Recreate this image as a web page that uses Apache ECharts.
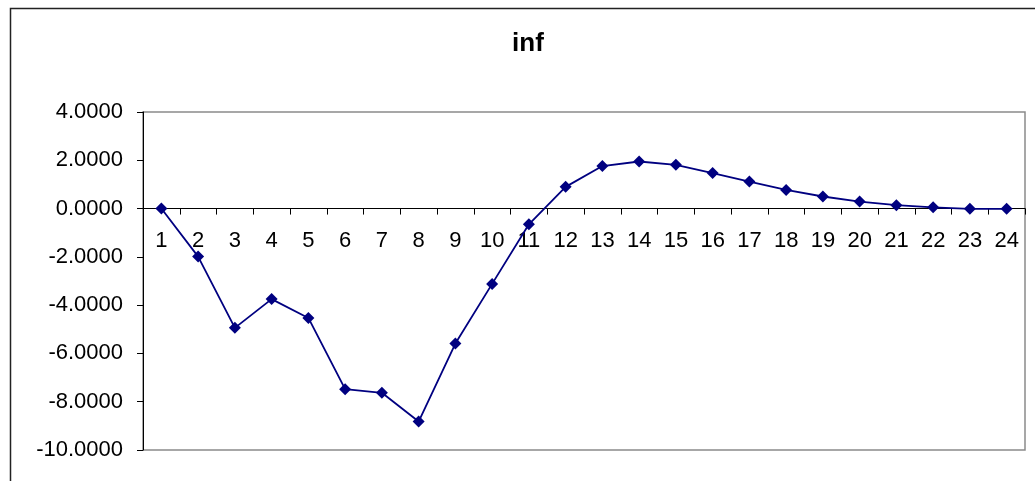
<!DOCTYPE html>
<html>
<head>
<meta charset="utf-8">
<script src="https://cdn.jsdelivr.net/npm/echarts@6/dist/echarts.min.js"></script>
<style>
  html, body { margin: 0; padding: 0; background: #fff; }
  #chart { width: 1035px; height: 481px; }
</style>
</head>
<body>
<div id="chart"></div>
<script>
// Periods 1..24 and the impulse response of inflation
const categories = ['1','2','3','4','5','6','7','8','9','10','11','12','13','14','15','16','17','18','19','20','21','22','23','24'];
const infValues = [0.00, -1.99, -4.94, -3.75, -4.53, -7.48, -7.63, -8.82, -5.59, -3.12, -0.65, 0.90, 1.76, 1.95, 1.81, 1.47, 1.12, 0.77, 0.50, 0.29, 0.14, 0.05, -0.01, -0.01];
const yMin = -10, yMax = 4, yStep = 2;

const FONT = '"Liberation Sans", Arial, sans-serif';
const W = 1035, H = 481;
const GRID = { left: 143, top: 112, right: 10, bottom: 31 };
const plotH = H - GRID.top - GRID.bottom;
// distance from the plot top down to the zero line
const zeroFromTop = plotH * yMax / (yMax - yMin);

const chart = echarts.init(document.getElementById('chart'), null, { renderer: 'canvas' });

chart.setOption({
  backgroundColor: '#fff',
  animation: false,
  title: {
    text: 'inf',
    left: 523,
    top: 26,
    textAlign: 'center',
    textStyle: { fontFamily: FONT, fontSize: 26, fontWeight: 'bold', color: '#000' }
  },
  graphic: [{
    type: 'rect',
    shape: { x: 10.5, y: 8.5, width: 1040, height: 490 },
    style: { fill: 'none', stroke: '#222', lineWidth: 1.5 },
    silent: true,
    z: 10
  }],
  grid: Object.assign({
    show: true,
    borderColor: '#8a8a8a',
    borderWidth: 1.5,
    backgroundColor: 'transparent',
    containLabel: false,
    outerBoundsMode: 'none'
  }, GRID),
  xAxis: [{
    // axis line and ticks crossing at zero
    type: 'category',
    data: categories,
    boundaryGap: true,
    axisLine: { onZero: true, lineStyle: { color: '#000', width: 1 } },
    axisTick: { show: true, length: 6, alignWithLabel: false, lineStyle: { color: '#000' } },
    axisLabel: { show: false },
    splitLine: { show: false }
  }, {
    // category labels just below the zero line
    type: 'category',
    data: categories,
    boundaryGap: true,
    position: 'top',
    offset: -zeroFromTop,
    axisLine: { show: false, onZero: false },
    axisTick: { show: false },
    axisLabel: { inside: true, interval: 0, margin: 21, fontFamily: FONT, fontSize: 22, color: '#000' },
    splitLine: { show: false }
  }],
  yAxis: {
    type: 'value',
    min: yMin, max: yMax, interval: yStep,
    axisLine: { show: true, lineStyle: { color: '#000', width: 1 } },
    axisTick: { show: true, length: 6, lineStyle: { color: '#000' } },
    axisLabel: {
      margin: 20,
      fontFamily: FONT, fontSize: 22, color: '#000',
      formatter: v => v.toFixed(4)
    },
    splitLine: { show: false }
  },
  series: [{
    name: 'inf',
    type: 'line',
    xAxisIndex: 0,
    data: infValues,
    symbol: 'diamond',
    symbolSize: 12,
    itemStyle: { color: '#000080' },
    lineStyle: { color: '#000080', width: 1.8 },
    z: 5
  }]
});
</script>
</body>
</html>
